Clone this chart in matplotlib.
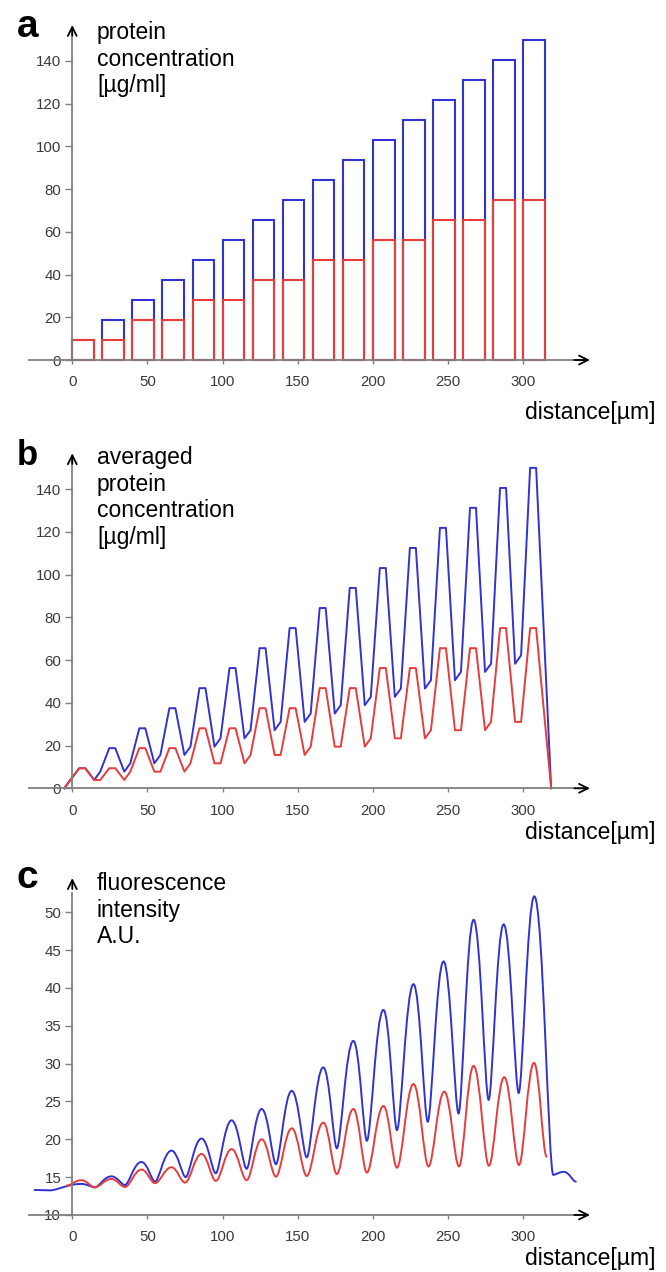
import matplotlib
matplotlib.use('Agg')
import matplotlib.pyplot as plt
from matplotlib.path import Path
from matplotlib.patches import PathPatch

plt.rcParams['font.family'] = ['Liberation Sans', 'DejaVu Sans']

# ---------------- data ----------------
# panel a: bars (left edge, heights)
bar_left = [0, 20, 40, 60, 80, 100, 120, 140, 160, 180, 200, 220, 240, 260, 280, 300]
bar_blue = [9.4, 18.8, 28.1, 37.5, 46.9, 56.3, 65.6, 75.0, 84.4, 93.8, 103.1, 112.5,
            121.9, 131.3, 140.6, 150.0]
bar_red = [9.4, 9.4, 18.8, 18.8, 28.1, 28.1, 37.5, 37.5, 46.9, 46.9, 56.3, 56.3,
           65.6, 65.6, 75.0, 75.0]

# panel b: averaged concentration (vertex positions and values)
avg_x = [-5.4, 4.6, 8.6, 14.6, 18.6, 24.6, 28.6, 34.6, 38.6, 44.6, 48.6, 54.6, 58.6,
         64.6, 68.6, 74.6, 78.6, 84.6, 88.6, 94.6, 98.6, 104.6, 108.6, 114.6, 118.6,
         124.6, 128.6, 134.6, 138.6, 144.6, 148.6, 154.6, 158.6, 164.6, 168.6, 174.6,
         178.6, 184.6, 188.6, 194.6, 198.6, 204.6, 208.6, 214.6, 218.6, 224.6, 228.6,
         234.6, 238.6, 244.6, 248.6, 254.6, 258.6, 264.6, 268.6, 274.6, 278.6, 284.6,
         288.6, 294.6, 298.6, 304.6, 308.6, 318.6]
avg_blue = [0, 9.4, 9.4, 3.9, 7.8, 18.8, 18.8, 7.8, 11.7, 28.1, 28.1, 11.7, 15.6,
            37.5, 37.5, 15.6, 19.5, 46.9, 46.9, 19.5, 23.4, 56.3, 56.3, 23.4, 27.2,
            65.6, 65.6, 27.2, 31.1, 75.0, 75.0, 31.1, 35.0, 84.4, 84.4, 35.0, 38.9,
            93.8, 93.8, 38.9, 42.8, 103.1, 103.1, 42.8, 46.7, 112.5, 112.5, 46.7, 50.6,
            121.9, 121.9, 50.6, 54.5, 131.3, 131.3, 54.5, 58.3, 140.6, 140.6, 58.3, 62.3,
            150.0, 150.0, 0]
avg_red = [0, 9.4, 9.4, 3.9, 3.9, 9.4, 9.4, 3.9, 7.8, 18.8, 18.8, 7.8, 7.8,
           18.8, 18.8, 7.8, 11.7, 28.1, 28.1, 11.7, 11.7, 28.1, 28.1, 11.7, 15.6,
           37.5, 37.5, 15.6, 15.6, 37.5, 37.5, 15.6, 19.5, 46.9, 46.9, 19.5, 19.5,
           46.9, 46.9, 19.5, 23.4, 56.3, 56.3, 23.4, 23.4, 56.3, 56.3, 23.4, 27.2,
           65.6, 65.6, 27.2, 27.2, 65.6, 65.6, 27.2, 31.1, 75.0, 75.0, 31.1, 31.1,
           75.0, 75.0, 0]

# panel c: fluorescence extrema (x, value)
fl_blue_x = [-25, -15, 6, 15, 26, 35, 46, 55, 66, 75.4, 86, 95.4, 106, 116, 126, 135.5,
             146, 156, 167, 176, 187, 196, 207, 216, 227, 236.5, 247, 257, 267, 277,
             287, 297, 307.4, 320, 327, 335]
fl_blue_y = [13.3, 13.25, 14.1, 13.65, 15.1, 13.95, 17.0, 14.4, 18.5, 15.0, 20.1, 15.5,
             22.5, 16.1, 24.0, 16.7, 26.4, 17.6, 29.5, 18.8, 33.0, 19.8, 37.1, 21.2,
             40.5, 22.3, 43.5, 23.4, 49.0, 25.2, 48.4, 26.1, 52.1, 15.3, 15.7, 14.4]
fl_red_x = [-3.5, 6, 15, 26, 35, 46, 55, 66, 75, 86, 95.5, 106, 116, 126, 135.5, 146,
            156, 167, 176, 187, 196, 207, 216, 227, 237, 247.5, 257.3, 267, 277.2,
            287.4, 297.2, 307.2, 315.6]
fl_red_y = [13.9, 14.6, 13.66, 14.75, 13.7, 16.0, 14.2, 16.3, 14.27, 18.06, 14.5, 18.7,
            14.6, 20.0, 15.06, 21.45, 15.15, 22.2, 15.4, 24.0, 15.6, 24.4, 16.25, 27.3,
            16.4, 26.3, 16.4, 29.7, 16.5, 28.2, 16.6, 30.1, 17.7]

x_ticks = [0, 50, 100, 150, 200, 250, 300]
y_ticks_ab = [0, 20, 40, 60, 80, 100, 120, 140]
y_ticks_c = [10, 15, 20, 25, 30, 35, 40, 45, 50]

BLUE = '#3232d2'
RED = '#e63c3c'
AXIS_GRAY = '#808080'
TICK_TXT = '#3a3a3a'

W, H = 666, 1272
fig = plt.figure(figsize=(W / 100, H / 100), dpi=100)


def px_axes(left, right, top, bottom):
    return fig.add_axes([left / W, 1 - bottom / H, (right - left) / W, (bottom - top) / H])


def style(ax, y_base, y_top, yticks, ylim):
    ax.set_xlim(-30, 350)
    ax.set_ylim(*ylim)
    for s in ['top', 'right']:
        ax.spines[s].set_visible(False)
    ax.spines['left'].set_position(('data', 0))
    ax.spines['bottom'].set_position(('data', y_base))
    ax.spines['left'].set_bounds(y_base, y_top - 2)
    ax.spines['bottom'].set_bounds(-28.7, 340)
    for s in ['left', 'bottom']:
        ax.spines[s].set_color(AXIS_GRAY)
        ax.spines[s].set_linewidth(1.3)
    ax.set_xticks(x_ticks)
    ax.set_yticks(yticks)
    ax.tick_params(axis='y', direction='out', length=5, width=1, color=AXIS_GRAY,
                   pad=3, labelsize=10.8, labelcolor=TICK_TXT)
    ax.tick_params(axis='x', direction='out', length=3, width=1, color=AXIS_GRAY,
                   pad=8, labelsize=10.8, labelcolor=TICK_TXT)
    ax.patch.set_visible(False)
    ap = dict(arrowstyle='->', color='black', lw=1.3, mutation_scale=16,
              shrinkA=0, shrinkB=0)
    ax.annotate('', xy=(344.4, y_base), xytext=(334, y_base), arrowprops=ap,
                annotation_clip=False)
    dy = (ylim[1] - ylim[0]) * 0.03
    ax.annotate('', xy=(0, y_top), xytext=(0, y_top - dy), arrowprops=ap,
                annotation_clip=False)


def smooth_curve(ax, xs, ys, color, k_peak, k_valley, lw):
    verts = [(xs[0], ys[0])]
    codes = [Path.MOVETO]
    for i in range(len(xs) - 1):
        x0, y0, x1, y1 = xs[i], ys[i], xs[i + 1], ys[i + 1]
        dx = x1 - x0
        k0 = k_peak if y0 >= y1 else k_valley
        k1 = k_peak if y1 >= y0 else k_valley
        verts += [(x0 + k0 * dx, y0), (x1 - k1 * dx, y1), (x1, y1)]
        codes += [Path.CURVE4] * 3
    ax.add_patch(PathPatch(Path(verts, codes), fill=False, edgecolor=color, lw=lw,
                           capstyle='round', joinstyle='round'))


# ---------------- panel a ----------------
axa = px_axes(27.2, 598.35, 18.2, 370.7)
axa.bar(bar_left, bar_blue, width=14.4, align='edge', fill=False, edgecolor=BLUE, lw=1.5)
axa.bar(bar_left, bar_red, width=14.4, align='edge', fill=False, edgecolor=RED, lw=1.5)
style(axa, 0, 156.8, y_ticks_ab, (-5, 160))

# ---------------- panel b ----------------
axb = px_axes(27.2, 598.35, 446.5, 799.0)
axb.plot(avg_x, avg_blue, color=BLUE, lw=1.4)
axb.plot(avg_x, avg_red, color=RED, lw=1.4)
style(axb, 0, 156.8, y_ticks_ab, (-5, 160))

# ---------------- panel c ----------------
axc = px_axes(27.2, 598.35, 866.8, 1230.1)
smooth_curve(axc, fl_blue_x, fl_blue_y, BLUE, 0.45, 0.25, 1.4)
smooth_curve(axc, fl_red_x, fl_red_y, RED, 0.42, 0.32, 1.4)
style(axc, 10, 54.5, y_ticks_c, (8, 56))

# ---------------- texts ----------------
lab_kw = dict(fontsize=16.5, ha='left', va='top', linespacing=1.2, color='black')
fig.text(97 / W, 1 - 21 / H, 'protein\nconcentration\n[µg/ml]', **lab_kw)
fig.text(97 / W, 1 - 446 / H, 'averaged\nprotein\nconcentration\n[µg/ml]', **lab_kw)
fig.text(97 / W, 1 - 872 / H, 'fluorescence\nintensity\nA.U.', **lab_kw)

for ypix in [412, 833, 1259]:
    fig.text(656 / W, 1 - ypix / H, 'distance[µm]', fontsize=16.5, ha='right',
             va='center')

fig.text(17 / W, 1 - 37 / H, 'a', fontsize=28, fontweight='bold', va='baseline')
fig.text(17 / W, 1 - 465 / H, 'b', fontsize=25, fontweight='bold', va='baseline')
fig.text(17 / W, 1 - 888 / H, 'c', fontsize=28, fontweight='bold', va='baseline')

fig.savefig('out.png', dpi=100)
